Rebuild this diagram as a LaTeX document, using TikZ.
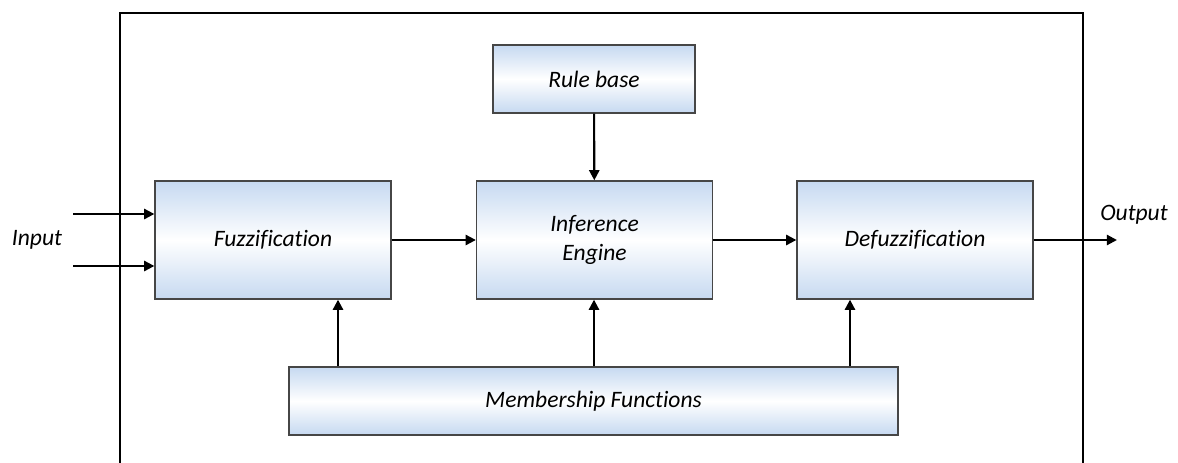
\documentclass[tikz,border=0pt]{standalone}
\usepackage{fontspec}
\setmainfont{Carlito}[Ligatures=CommonOff]
\usetikzlibrary{arrows.meta}

\definecolor{boxblue}{RGB}{198,217,241}
\definecolor{boxline}{RGB}{70,70,70}

\begin{document}
\begin{tikzpicture}[
  x=0.02cm, y=-0.02cm,
  >={Triangle[length=5.8pt, width=5.8pt]},
  box/.style={draw=boxline, line width=0.8pt, inner sep=0pt, align=center,
              top color=boxblue, bottom color=boxblue, middle color=white,
              font=\fontsize{13.4}{16}\selectfont\itshape,
              minimum width=4.72cm, minimum height=2.36cm},
  lbl/.style={font=\fontsize{13.4}{16}\selectfont\itshape},
  link/.style={->, line width=1.2pt},
]
\useasboundingbox (0,0) rectangle (1178,463);
\draw[line width=1.2pt] (120,463) -- (120,13) -- (1083,13) -- (1083,463);

\node[box, minimum width=4.04cm, minimum height=1.36cm] (rule) at (594,79) {Rule base};
\node[box] (fuzz) at (273,240) {Fuzzification};
\node[box] (infer) at (594.5,240) {Inference\\Engine};
\node[box] (defuzz) at (915,240) {Defuzzification};
\node[box, minimum width=12.18cm, minimum height=1.36cm] (member) at (593.5,401) {Membership Functions};

\node[lbl] (input) at (37,240) {Input};
\node[lbl] (output) at (1134,215) {Output};

\coordinate (in1) at (73,214);
\coordinate (in2) at (73,266);
\coordinate (out) at (1117,240);
\coordinate (mf) at (338,0);
\coordinate (mi) at (594,0);
\coordinate (md) at (850,0);

\draw[link] (in1) -- (fuzz.west |- in1);
\draw[link] (in2) -- (fuzz.west |- in2);
\draw[link] (fuzz) -- (infer);
\draw[link] (infer) -- (defuzz);
\draw[link] (defuzz) -- (out);
\draw[link] (rule) -- (infer);
\draw[link] (member.north -| mf) -- (fuzz.south -| mf);
\draw[link] (member.north -| mi) -- (infer.south -| mi);
\draw[link] (member.north -| md) -- (defuzz.south -| md);
\end{tikzpicture}
\end{document}
